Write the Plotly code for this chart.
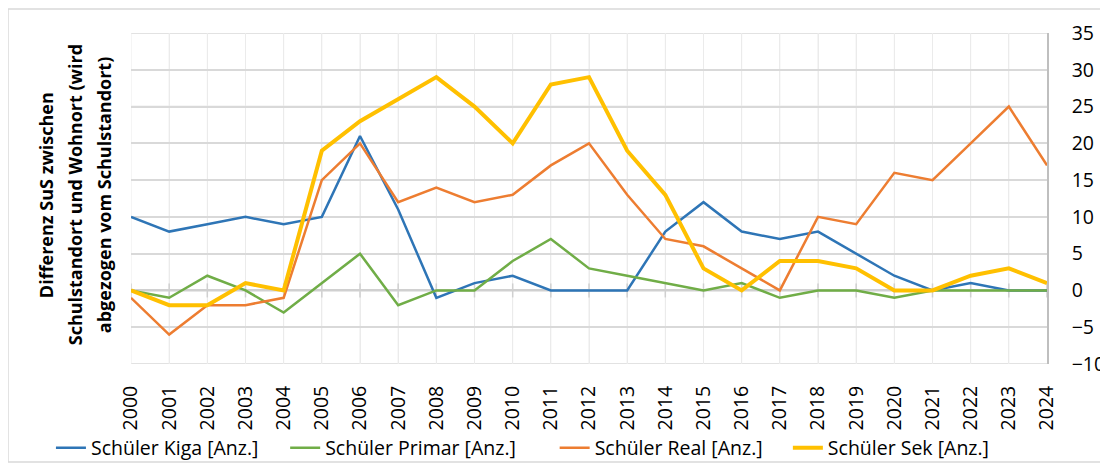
import plotly.graph_objects as go

years = list(range(2000, 2025))
kiga = [10, 8, 9, 10, 9, 10, 21, 11, -1, 1, 2, 0, 0, 0, 8, 12, 8, 7, 8, 5, 2, 0, 1, 0, 0]
primar = [0, -1, 2, 0, -3, 1, 5, -2, 0, 0, 4, 7, 3, 2, 1, 0, 1, -1, 0, 0, -1, 0, 0, 0, 0]
real = [-1, -6, -2, -2, -1, 15, 20, 12, 14, 12, 13, 17, 20, 13, 7, 6, 3, 0, 10, 9, 16, 15, 20, 25, 17]
sek = [0, -2, -2, 1, 0, 19, 23, 26, 29, 25, 20, 28, 29, 19, 13, 3, 0, 4, 4, 3, 0, 0, 2, 3, 1]
y_ticks = [-10, -5, 0, 5, 10, 15, 20, 25, 30, 35]

names = ["Schüler Kiga [Anz.]", "Schüler Primar [Anz.]", "Schüler Real [Anz.]", "Schüler Sek [Anz.]"]
colors = ["#2E75B6", "#70AD47", "#ED7D31", "#FFC000"]
widths = [2.5, 2.5, 2.5, 4]
legend_ids = ["legend", "legend2", "legend3", "legend4"]
legend_x = [-0.0874, 0.1683, 0.4625, 0.7171]
font = "Open Sans, Noto Sans, sans-serif"
FS = 19.5

fig = go.Figure()
# tick marks on the category axis crossing at zero
fig.add_trace(go.Scatter(x=years, y=[0] * len(years), mode="markers",
                         marker=dict(symbol="line-ns", size=10, line=dict(color="#D0D0D0", width=1.5)),
                         showlegend=False, hoverinfo="skip"))
for n, vals, c, w, lg in zip(names, [kiga, primar, real, sek], colors, widths, legend_ids):
    fig.add_trace(go.Scatter(x=years, y=vals, mode="lines", name=n, legend=lg,
                             line=dict(color=c, width=w)))

legend_common = dict(orientation="h", xanchor="left",
                     y=-0.254, yanchor="middle", bgcolor="rgba(0,0,0,0)",
                     font=dict(size=FS, family=font))
layout_legends = {lg: dict(legend_common, x=x) for lg, x in zip(legend_ids, legend_x)}

fig.update_layout(
    width=1100, height=457,
    margin=dict(l=123, r=61, t=25, b=101, autoexpand=False),
    paper_bgcolor="white", plot_bgcolor="white",
    font=dict(family=font, size=FS, color="#000000"),
    xaxis=dict(range=[2000, 2024], tickmode="array", tickvals=years,
               ticktext=[str(y) for y in years], tickangle=-90,
               showgrid=True, gridcolor="#EBEBEB", gridwidth=1,
               zeroline=False, showline=False,
               ticks="outside", ticklen=13, tickcolor="rgba(0,0,0,0)",
               tickfont=dict(size=FS, family=font)),
    yaxis=dict(range=[-10, 35], tickmode="array", tickvals=y_ticks, side="right",
               showgrid=True, gridcolor="#D9D9D9", gridwidth=1.5,
               zeroline=True, zerolinecolor="#D0D0D0", zerolinewidth=2,
               showline=True, linecolor="#BFBFBF", linewidth=1.5, mirror=False,
               ticks="outside", ticklen=19, tickcolor="rgba(0,0,0,0)",
               tickfont=dict(size=FS, family=font)),
    showlegend=True,
    **layout_legends,
)
# gridlines (drawn explicitly beneath the data lines)
for yv in y_ticks:
    fig.add_shape(type="line", xref="paper", yref="y", x0=0, x1=1, y0=yv, y1=yv, layer="between",
                  line=dict(color="#D0D0D0" if yv == 0 else "#D9D9D9", width=2 if yv == 0 else 1.5))
for xv in years[:-1]:
    fig.add_shape(type="line", xref="x", yref="paper", x0=xv, x1=xv, y0=0, y1=1, layer="between",
                  line=dict(color="#EBEBEB", width=1))

title_lines = ["Differenz SuS zwischen", "Schulstandort und Wohnort (wird", "abgezogen vom Schulstandort)"]
title_x = [-0.0928, -0.0611, -0.0295]
for t, x in zip(title_lines, title_x):
    fig.add_annotation(text="<b>" + t + "</b>", xref="paper", yref="paper", x=x, y=0.51,
                       xanchor="center", yanchor="middle", textangle=-90, showarrow=False,
                       font=dict(size=18, family=font))
fig.add_shape(type="rect", xref="paper", yref="paper", x0=-0.1343, x1=1.0633, y0=-0.296, y1=1.0725,
              line=dict(color="#D9D9D9", width=1.5))
fig.write_html("out.html")
